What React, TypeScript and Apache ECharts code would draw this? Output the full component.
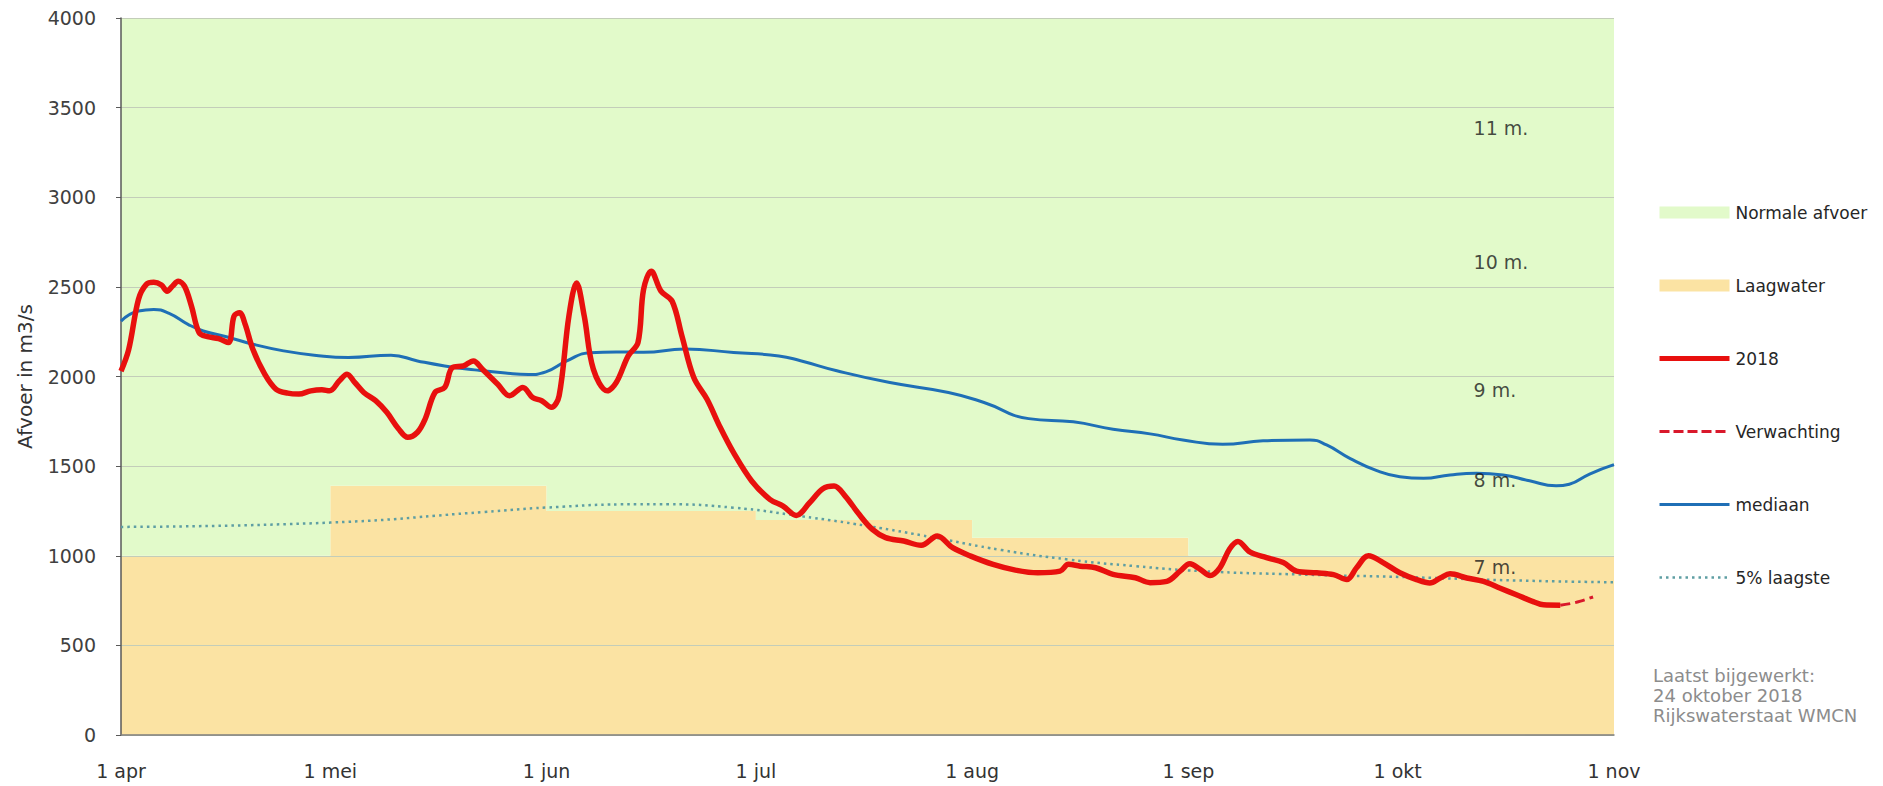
import React, { useEffect, useRef } from "react";
import * as echarts from "echarts";

// ---------- data ----------
// x values are days since 1 april 2018
const monthDays = [0, 30, 61, 91, 122, 153, 183, 214];
const monthLabels = ["1 apr", "1 mei", "1 jun", "1 jul", "1 aug", "1 sep", "1 okt", "1 nov"];

// Laagwater threshold per month (apr..okt, plus end point at 1 nov)
const laagwaterValues = [1000, 1390, 1250, 1200, 1100, 1000, 1000, 1000];

// [day since 1 apr, m3/s]
const flow2018 = [
  [0, 2030], [1.1, 2150], [2.5, 2430], [3.6, 2513], [4.7, 2526], [5.8, 2510], [6.6, 2476],
  [7.4, 2505], [8.2, 2531], [9.1, 2504], [10.1, 2393], [11.2, 2244], [12.4, 2222], [14, 2211],
  [15.4, 2189], [16.2, 2337], [17, 2356], [17.8, 2291], [18.9, 2152], [20.6, 2013], [22.2, 1930],
  [23.9, 1907], [25.5, 1902], [27.2, 1920], [28.8, 1926], [29.9, 1920], [31.3, 1976], [32.4, 2013],
  [33.5, 1967], [34.8, 1911], [36.5, 1865], [38.1, 1800], [39.8, 1707], [41.1, 1661], [42.5, 1689],
  [43.6, 1763], [45, 1911], [46.4, 1939], [47.5, 2050], [49.1, 2059], [50.5, 2087], [51.8, 2041],
  [54, 1957], [55.7, 1893], [57.6, 1939], [59, 1883], [60.3, 1865], [61.7, 1828], [62.8, 1893],
  [64.2, 2337], [65.3, 2522], [66.4, 2337], [67.7, 2041], [69.7, 1920], [71, 1967], [72.7, 2115],
  [74.1, 2189], [74.9, 2485], [76, 2587], [77.4, 2476], [79, 2420], [80.4, 2226], [82.1, 1994],
  [84, 1873], [85.9, 1715], [87.8, 1575], [90.4, 1417], [93, 1315], [94.9, 1277], [96.8, 1225],
  [98.7, 1296], [100.6, 1374], [102.2, 1389], [103.8, 1333], [105.8, 1231], [107.7, 1147],
  [109.6, 1101], [112.2, 1082], [114.7, 1058], [117, 1110], [119.2, 1045], [121.8, 998],
  [125, 952], [128.2, 920], [131.4, 905], [134.6, 914], [135.8, 952], [137.5, 942], [139.7, 933],
  [142.2, 896], [145.4, 877], [147.5, 850], [149.9, 857], [151.8, 914], [153.2, 955], [154.7, 924],
  [156.1, 890], [157.5, 933], [158.9, 1038], [160.1, 1080], [161.8, 1022], [164.2, 990],
  [166.6, 962], [168.5, 914], [171.4, 905], [173.8, 895], [175.7, 867], [177.1, 933], [178.8, 1000],
  [180.9, 962], [183.3, 905], [185.7, 867], [187.6, 848], [189.1, 876], [190.5, 899], [192.9, 876],
  [195.3, 857], [197.7, 819], [200.1, 781], [202.5, 743], [203.9, 726], [206.3, 724],
];

const verwachting = [[206.3, 724], [208, 735], [209.2, 747], [211, 770]];

const mediaan = [
  [0, 2309], [2.5, 2365], [4.7, 2374], [6.9, 2352], [9.6, 2291], [11.8, 2254], [15.1, 2222],
  [18.9, 2180], [23.3, 2143], [27.7, 2119], [32.6, 2106], [38.7, 2119], [42.5, 2087], [46.4, 2059],
  [50.7, 2037], [55.1, 2019], [58.4, 2011], [60.9, 2026], [63.9, 2087], [67.2, 2133], [71, 2137],
  [74.9, 2135], [80.8, 2153], [87.8, 2134], [94.3, 2115], [97.4, 2088], [102.6, 2032],
  [110.2, 1966], [118.6, 1911], [123.7, 1855], [130.1, 1765], [136.5, 1747], [142.2, 1706],
  [147.5, 1680], [152.2, 1646], [157.9, 1622], [163.7, 1641], [170.4, 1646], [172.8, 1618],
  [176.2, 1542], [180, 1475], [183.3, 1441], [186.7, 1432], [190.5, 1451], [194.3, 1460],
  [198.1, 1451], [201.9, 1418], [205.7, 1390], [207.6, 1399], [210.5, 1456], [214, 1508],
];

const laagste5 = [
  [0, 1161], [30, 1185], [52, 1244], [61, 1269], [74, 1287], [78.3, 1287], [87.8, 1268],
  [97.4, 1221], [107, 1166], [116.6, 1101], [126.2, 1032], [135.8, 979], [145.4, 942], [155, 914],
  [168.5, 896], [185, 880], [200, 862], [214, 852],
];

const levelNames = ["11 m.", "10 m.", "9 m.", "8 m.", "7 m."];
const levelValues = [3386, 2640, 1926, 1423, 938];
const levelDay = 193.8;

const footerLines = ["Laatst bijgewerkt:", "24 oktober 2018", "Rijkswaterstaat WMCN"];

// ---------- helpers ----------
const labelFor = (v: number) => {
  const i = monthDays.findIndex((d) => Math.abs(d - v) < 0.5);
  return i >= 0 ? monthLabels[i] : "";
};

const FONT = "DejaVu Sans";
const C_GREEN = "#E2FACA";
const C_ORANGE = "#FBE3A3";
const C_RED = "#E8100E";
const C_RED2 = "#D9182B";
const C_BLUE = "#1F6FB6";
const C_DOT = "#5E9EA3";
const hideSym = { opacity: 0, color: "rgba(0,0,0,0)", borderWidth: 0 };

export default function App() {
  const ref = useRef<HTMLDivElement>(null);

  useEffect(() => {
    if (!ref.current) return;
    const chart = echarts.init(ref.current, undefined, { renderer: "svg" });

    const option: any = {
      animation: false,
      backgroundColor: "#ffffff",
      grid: { left: 121, right: 269, top: 18, bottom: 51 },
      xAxis: {
        type: "value",
        min: monthDays[0],
        max: monthDays[monthDays.length - 1],
        z: 3,
        axisLine: { show: true, lineStyle: { color: "#7f7f7f", width: 1.5 } },
        axisTick: { show: false },
        splitLine: { show: false },
        axisLabel: {
          customValues: monthDays,
          formatter: (v: number) => labelFor(v),
          fontFamily: FONT,
          fontSize: 19,
          color: "#333333",
          margin: 26,
          hideOverlap: false,
          showMinLabel: true,
          showMaxLabel: true,
        },
      },
      yAxis: {
        type: "value",
        min: 0,
        max: 4000,
        interval: 500,
        z: 3,
        name: "Afvoer in m3/s",
        nameLocation: "middle",
        nameGap: 86,
        nameTextStyle: { fontFamily: FONT, fontSize: 20, color: "#333333" },
        axisLine: { show: true, lineStyle: { color: "#595959", width: 1.5 } },
        axisTick: { show: true, length: 5, lineStyle: { color: "#595959" } },
        splitLine: { show: true, lineStyle: { color: "#C3CDB9", width: 1 } },
        axisLabel: {
          fontFamily: FONT,
          fontSize: 19,
          color: "#404040",
          margin: 25,
          formatter: (v: number) => String(v),
        },
      },
      legend: {
        orient: "vertical",
        left: 1657,
        top: 204,
        padding: 0,
        itemWidth: 70,
        itemHeight: 12,
        itemGap: 56,
        selectedMode: false,
        textStyle: { fontFamily: FONT, fontSize: 17, color: "#262626", padding: [0, 0, 0, 1] },
        data: [
          { name: "Normale afvoer", icon: "rect", itemStyle: { color: C_GREEN } },
          { name: "Laagwater", icon: "rect", itemStyle: { color: C_ORANGE } },
          { name: "2018", itemStyle: hideSym, lineStyle: { color: C_RED, width: 5, type: "solid" } },
          {
            name: "Verwachting",
            itemStyle: hideSym,
            lineStyle: { color: C_RED2, width: 3, type: [10, 4] },
          },
          { name: "mediaan", itemStyle: hideSym, lineStyle: { color: C_BLUE, width: 3, type: "solid" } },
          {
            name: "5% laagste",
            itemStyle: hideSym,
            lineStyle: { color: C_DOT, width: 2.5, type: [2.5, 4] },
          },
        ],
      },
      graphic: [
        {
          type: "text",
          left: 1653,
          top: 665,
          silent: true,
          style: {
            text: footerLines.join("\n"),
            fontFamily: FONT,
            fontSize: 18,
            lineHeight: 20,
            fill: "#8c8c8c",
          },
        },
      ],
      series: [
        {
          name: "Laagwater",
          type: "line",
          step: "end",
          z: 1,
          silent: true,
          symbol: "none",
          color: C_ORANGE,
          itemStyle: { color: C_ORANGE },
          lineStyle: { width: 0 },
          areaStyle: { color: C_ORANGE, opacity: 1, origin: "start" },
          data: monthDays.map((d, i) => [d, laagwaterValues[i]]),
        },
        {
          name: "Normale afvoer",
          type: "line",
          step: "end",
          z: 1,
          silent: true,
          symbol: "none",
          color: C_GREEN,
          itemStyle: { color: C_GREEN },
          lineStyle: { width: 0 },
          areaStyle: { color: C_GREEN, opacity: 1, origin: "end" },
          data: monthDays.map((d, i) => [d, laagwaterValues[i]]),
        },
        {
          name: "5% laagste",
          type: "line",
          z: 5,
          symbol: "none",
          smooth: 0.5,
          color: C_DOT,
          lineStyle: { color: C_DOT, width: 2.5, type: [2.5, 4] },
          data: laagste5,
        },
        {
          name: "mediaan",
          type: "line",
          z: 6,
          symbol: "none",
          smooth: 0.5,
          color: C_BLUE,
          lineStyle: { color: C_BLUE, width: 3 },
          data: mediaan,
        },
        {
          name: "2018",
          type: "line",
          z: 7,
          symbol: "none",
          smooth: 0.35,
          color: C_RED,
          lineStyle: { color: C_RED, width: 5.5 },
          data: flow2018,
        },
        {
          name: "Verwachting",
          type: "line",
          z: 7,
          symbol: "none",
          smooth: 0.4,
          color: C_RED2,
          lineStyle: { color: C_RED2, width: 3, type: [10, 5] },
          data: verwachting,
        },
        {
          name: "niveaus",
          type: "scatter",
          z: 8,
          silent: true,
          symbolSize: 1,
          itemStyle: { color: "rgba(0,0,0,0)" },
          label: {
            show: true,
            position: "right",
            distance: 0,
            formatter: "{b}",
            fontFamily: FONT,
            fontSize: 19,
            color: "#1a1a1a",
          },
          data: levelNames.map((n, i) => ({ name: n, value: [levelDay, levelValues[i]] })),
        },
      ],
    };

    chart.setOption(option);
    return () => chart.dispose();
  }, []);

  return (
    <div
      ref={ref}
      style={{ position: "fixed", left: 0, top: 0, width: 1883, height: 786, background: "#fff" }}
    />
  );
}
